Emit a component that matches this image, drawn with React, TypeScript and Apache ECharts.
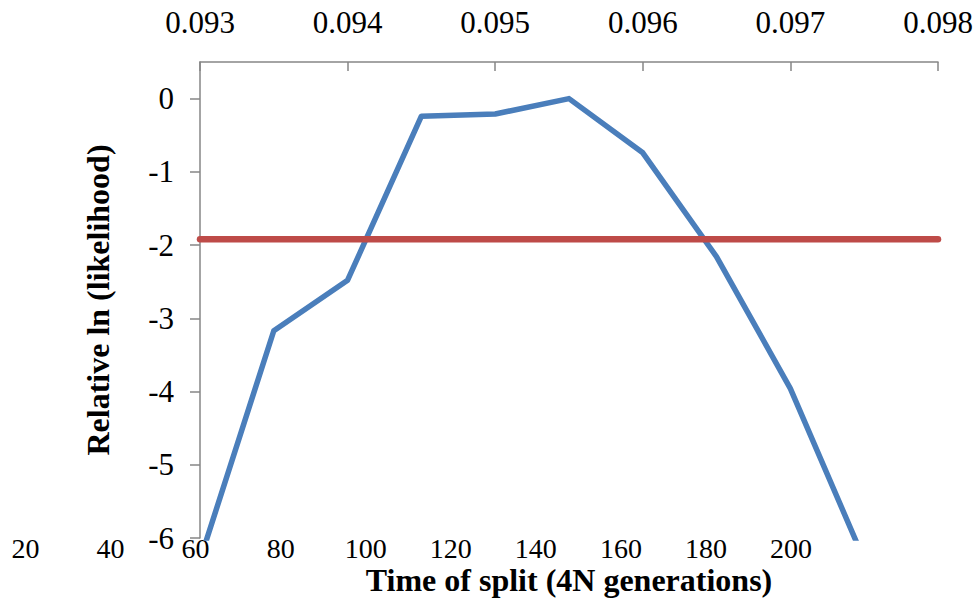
import React, { useEffect, useRef } from "react";
import * as echarts from "echarts";

// Top axis: parameter value; blue curve: relative ln(likelihood)
const paramValues = [0.093, 0.0935, 0.094, 0.0945, 0.095, 0.0955, 0.096, 0.0965, 0.097, 0.0975];
const lnLikelihood = [-6.3, -3.17, -2.48, -0.24, -0.21, 0, -0.74, -2.16, -3.96, -6.3];
// Red threshold line
const thresholdX = [0.093, 0.098];
const thresholdY = [-1.92, -1.92];
// Tick labels
const yTicks = [-6, -5, -4, -3, -2, -1, 0];
const bottomTicks = [20, 40, 60, 80, 100, 120, 140, 160, 180, 200];

const AXIS = "#868686";
const FONT = "'Liberation Serif', 'Times New Roman', serif";

export default function App() {
  const ref = useRef<HTMLDivElement>(null);
  useEffect(() => {
    if (!ref.current) return;
    const chart = echarts.init(ref.current, undefined, { renderer: "svg" });
    chart.setOption({
      animation: false,
      backgroundColor: "#ffffff",
      textStyle: { fontFamily: FONT },
      grid: [
        { left: 200, right: 41, top: 62, bottom: 66, containLabel: false },
        { left: 25.5, right: 188, top: 62, bottom: 70, containLabel: false },
      ],
      xAxis: [
        {
          type: "value",
          gridIndex: 0,
          position: "top",
          min: 0.093,
          max: 0.098,
          interval: 0.001,
          axisLine: { show: true, onZero: false, lineStyle: { color: AXIS, width: 1.5 } },
          axisTick: { show: true, inside: true, length: 9, lineStyle: { color: AXIS, width: 1.5 } },
          axisLabel: {
            margin: 24,
            fontSize: 31,
            color: "#000",
            fontFamily: FONT,
            formatter: (v: number) => v.toFixed(3),
          },
          splitLine: { show: false },
        },
        {
          type: "value",
          gridIndex: 0,
          position: "bottom",
          min: 0.093,
          max: 0.098,
          axisLine: { show: false, onZero: false },
          axisTick: { show: false },
          axisLabel: { show: false },
          splitLine: { show: false },
          name: "Time of split (4N generations)",
          nameLocation: "middle",
          nameGap: 26,
          nameTextStyle: { fontSize: 32, fontWeight: "bold", color: "#000", fontFamily: FONT },
        },
        {
          type: "value",
          gridIndex: 1,
          position: "bottom",
          min: bottomTicks[0],
          max: bottomTicks[bottomTicks.length - 1],
          interval: 20,
          axisLine: { show: false, onZero: false },
          axisTick: { show: false },
          axisLabel: { margin: 0, fontSize: 28, color: "#000", fontFamily: FONT, customValues: bottomTicks },
          splitLine: { show: false },
        },
      ],
      yAxis: [
        {
          type: "value",
          gridIndex: 0,
          min: -6,
          max: 0.5,
          interval: 1,
          axisLine: { show: true, onZero: false, lineStyle: { color: AXIS, width: 1.5 } },
          axisTick: { show: true, length: 10, lineStyle: { color: AXIS, width: 1.5 }, customValues: yTicks },
          axisLabel: { margin: 26, fontSize: 31, color: "#000", fontFamily: FONT, customValues: yTicks },
          splitLine: { show: false },
          name: "Relative ln (likelihood)",
          nameLocation: "middle",
          nameRotate: 90,
          nameGap: 86,
          nameTextStyle: { fontSize: 32, fontWeight: "bold", color: "#000", fontFamily: FONT },
        },
        {
          type: "value",
          gridIndex: 1,
          show: false,
          min: 0,
          max: 1,
        },
      ],
      series: [
        {
          type: "line",
          xAxisIndex: 0,
          yAxisIndex: 0,
          data: paramValues.map((x, i) => [x, lnLikelihood[i]]),
          showSymbol: false,
          symbol: "none",
          clip: true,
          lineStyle: { color: "#4A7EBB", width: 5.5, cap: "round", join: "round" },
          z: 3,
        },
        {
          type: "line",
          xAxisIndex: 0,
          yAxisIndex: 0,
          data: thresholdX.map((x, i) => [x, thresholdY[i]]),
          showSymbol: false,
          symbol: "none",
          lineStyle: { color: "#BE4B48", width: 6.5, cap: "round" },
          z: 4,
        },
      ],
    });
    return () => chart.dispose();
  }, []);
  return <div ref={ref} style={{ width: 979, height: 604, position: "absolute", left: 0, top: 0 }} />;
}
